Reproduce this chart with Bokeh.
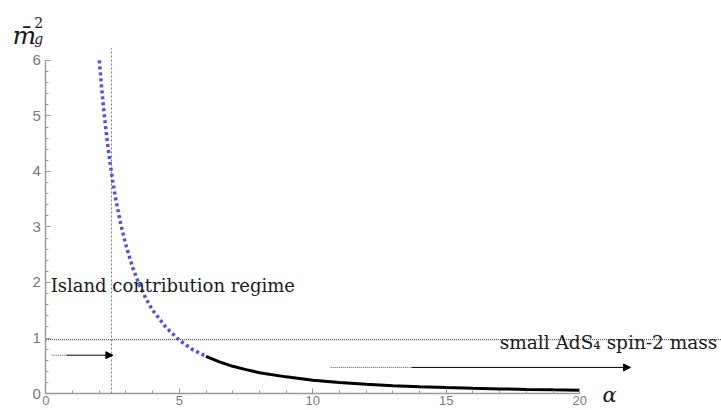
from bokeh.plotting import figure
from bokeh.models import Arrow, NormalHead, Label, SingleIntervalTicker, Range1d
from bokeh.embed import file_html
from bokeh.resources import INLINE
from bokeh.core.properties import value

# ---- data ----
alpha_dotted = [2.0, 2.1, 2.2, 2.3, 2.4, 2.5, 2.6, 2.8, 3.0, 3.25, 3.5, 3.75, 4.0, 4.5, 5.0, 5.5, 6.0]
mass_dotted = [6.0, 5.44, 4.96, 4.54, 4.17, 3.84, 3.55, 3.06, 2.67, 2.27, 1.96, 1.71, 1.50, 1.19, 0.96, 0.79, 0.67]
alpha_solid = [6.0, 6.5, 7.0, 7.5, 8.0, 9.0, 10.0, 11.0, 12.0, 13.0, 14.0, 15.0, 16.0, 17.0, 18.0, 19.0, 20.0]
mass_solid = [0.67, 0.57, 0.49, 0.43, 0.375, 0.30, 0.24, 0.20, 0.167, 0.142, 0.122, 0.107, 0.094, 0.083, 0.074, 0.066, 0.06]
island_alpha = 2.46      # vertical dotted line
mass_threshold = 0.97    # horizontal dotted line
x_axis_max = 20
y_axis_max = 6
x_ticks_interval = 5
y_ticks_interval = 1

SERIF = "DejaVu Serif"
SANS = "Liberation Sans"

X0, X1 = -1.70, 25.31
Y0, Y1 = -0.306, 7.08

p = figure(width=721, height=410, x_range=Range1d(X0, X1), y_range=Range1d(Y0, Y1),
           output_backend="svg", toolbar_location=None,
           min_border_left=0, min_border_right=0, min_border_top=0, min_border_bottom=0)
p.xgrid.visible = False
p.ygrid.visible = False
p.outline_line_color = None
p.background_fill_color = "white"
p.border_fill_color = "white"

for ax, interval, bounds in ((p.xaxis[0], x_ticks_interval, (0, x_axis_max)),
                             (p.yaxis[0], y_ticks_interval, (0, y_axis_max))):
    ax.fixed_location = 0
    ax.ticker = SingleIntervalTicker(interval=interval, num_minor_ticks=5)
    ax.bounds = bounds
    ax.axis_line_color = "#999999"
    ax.axis_line_width = 1.4
    ax.major_tick_line_color = "#999999"
    ax.minor_tick_line_color = "#999999"
    ax.major_tick_in = 5
    ax.major_tick_out = 0
    ax.minor_tick_in = 3
    ax.minor_tick_out = 0
    ax.major_label_text_color = "#7a7a7a"
    ax.major_label_text_font = SANS

p.yaxis.major_label_text_font_size = "15px"
p.yaxis.major_label_standoff = 5
p.xaxis.major_label_text_font_size = "13px"
p.xaxis.major_label_standoff = 2

top_of_line = 6.22
# reference lines
p.segment(x0=[island_alpha], y0=[0], x1=[island_alpha], y1=[top_of_line],
          line_color="#777777", line_dash="2 2", line_width=1)
p.segment(x0=[0], y0=[mass_threshold], x1=[X1], y1=[mass_threshold],
          line_color="#222222", line_dash="1 1", line_width=1)

# curve
p.line(alpha_dotted, mass_dotted, line_color="#4d4dff", line_width=3.5, line_dash="3 3")
p.line(alpha_solid, mass_solid, line_color="black", line_width=3)

# arrows
p.segment(x0=[0.22], y0=[0.69], x1=[0.78], y1=[0.69], line_color="#555555", line_dash="1 1", line_width=1)
p.add_layout(Arrow(end=NormalHead(size=7, fill_color="black", line_color="black"),
                   x_start=0.78, y_start=0.69, x_end=island_alpha + 0.05, y_end=0.69,
                   line_color="black", line_width=1))
p.segment(x0=[10.67], y0=[0.47], x1=[13.7], y1=[0.47], line_color="#555555", line_dash="1 1", line_width=1)
p.add_layout(Arrow(end=NormalHead(size=7, fill_color="black", line_color="black"),
                   x_start=13.7, y_start=0.47, x_end=21.9, y_end=0.47,
                   line_color="black", line_width=1))

# annotations
p.text(x=[0.18], y=[1.95], text=["Island contribution regime"], text_font=value(SERIF),
       text_font_size="18px", text_baseline="alphabetic", text_color="#1a1a1a")
p.text(x=[17.0], y=[0.92], text=["small AdS\u2084 spin-2 mass"], text_font=value(SERIF),
       text_font_size="18.5px", text_baseline="alphabetic", text_color="#1a1a1a")

# axis labels
p.add_layout(Label(x=20.85, y=-0.02, text="\u03b1", text_font=SERIF, text_font_style="italic",
                   text_font_size="21px", text_color="#1a1a1a", text_baseline="alphabetic"))
p.add_layout(Label(x=-1.25, y=6.45, text="m\u0304", text_font=SERIF, text_font_style="italic",
                   text_font_size="25px", text_color="#1a1a1a", text_baseline="alphabetic"))
p.add_layout(Label(x=-0.44, y=6.68, text="2", text_font=SERIF,
                   text_font_size="14px", text_color="#1a1a1a", text_baseline="alphabetic"))
p.add_layout(Label(x=-0.44, y=6.38, text="g", text_font=SERIF, text_font_style="italic",
                   text_font_size="14px", text_color="#1a1a1a", text_baseline="alphabetic"))

open("out.html", "w").write(file_html(p, INLINE))
